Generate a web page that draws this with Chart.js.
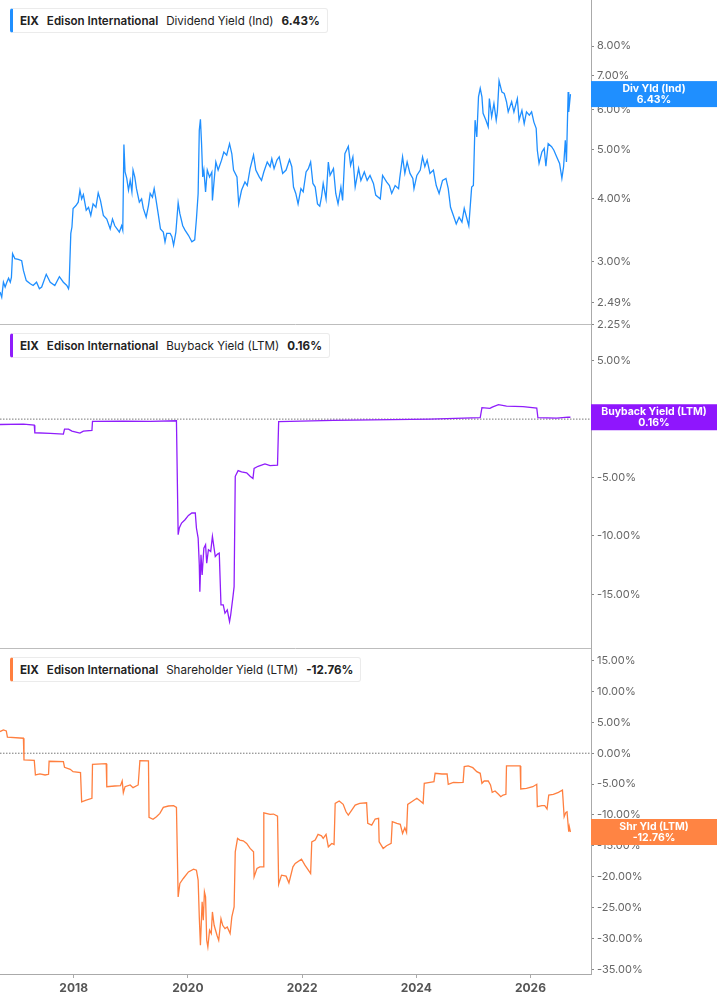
<!DOCTYPE html>
<html>
<head>
<meta charset="utf-8">
<title>EIX Edison International yields</title>
<script src="https://cdn.jsdelivr.net/npm/chart.js@4.4.1/dist/chart.umd.min.js"></script>
<style>
  html, body { margin: 0; padding: 0; background: #fff; }
  body { width: 717px; height: 1005px; position: relative; overflow: hidden; font-family: Inter, 'Noto Sans', sans-serif; }
  #chart { position: absolute; left: 0; top: 0; }
  .legend {
    position: absolute; left: 10px; height: 25px; box-sizing: border-box;
    display: flex; align-items: center; padding: 0 7px 0 7px;
    background: #fff; border: 1px solid #ebebeb; border-left: 3px solid; border-radius: 3px;
    font-size: 11.6px; color: #222; white-space: nowrap;
  }
  .legend .sym { font-weight: 700; }
  .legend .name { font-weight: 600; margin-left: 8px; }
  .legend .metric { font-weight: 400; margin-left: 8px; }
  .legend .val { font-weight: 700; margin-left: 8px; }
</style>
</head>
<body>
<canvas id="chart" width="717" height="1005"></canvas>
<div id="legends"></div>
<script>
// Labels

const ticker = 'EIX';
const company = 'Edison International';
const metricNames = ['Dividend Yield (Ind)', 'Buyback Yield (LTM)', 'Shareholder Yield (LTM)'];
const tagNames = ['Div Yld (Ind)', 'Buyback Yield (LTM)', 'Shr Yld (LTM)'];

// X axis (decimal years)

const xStart = 2016.71;
const xEnd = 2027.06;
const xTickYears = [2018, 2020, 2022, 2024, 2026];

// Dividend Yield (Ind), %

const divYears = [
    2016.71, 2016.74, 2016.77, 2016.80, 2016.83, 2016.86, 2016.89, 2016.91, 2016.93, 2016.97,
    2017.03, 2017.09, 2017.12, 2017.17, 2017.24, 2017.29, 2017.35, 2017.40, 2017.44, 2017.52,
    2017.59, 2017.67, 2017.75, 2017.82, 2017.88, 2017.91, 2017.92, 2017.95, 2017.97, 2017.99,
    2018.04, 2018.08, 2018.11, 2018.14, 2018.17, 2018.22, 2018.26, 2018.30, 2018.34, 2018.39,
    2018.43, 2018.47, 2018.52, 2018.58, 2018.64, 2018.68, 2018.72, 2018.76, 2018.80, 2018.84,
    2018.86, 2018.88, 2018.90, 2018.93, 2018.96, 2018.99, 2019.02, 2019.04, 2019.07, 2019.10,
    2019.15, 2019.19, 2019.22, 2019.27, 2019.31, 2019.34, 2019.38, 2019.41, 2019.44, 2019.48,
    2019.52, 2019.57, 2019.60, 2019.63, 2019.69, 2019.72, 2019.75, 2019.79, 2019.83, 2019.86,
    2019.91, 2019.95, 2020.01, 2020.07, 2020.12, 2020.15, 2020.18, 2020.20, 2020.22, 2020.24,
    2020.26, 2020.28, 2020.31, 2020.34, 2020.38, 2020.42, 2020.43, 2020.46, 2020.49, 2020.53,
    2020.59, 2020.63, 2020.68, 2020.73, 2020.77, 2020.80, 2020.86, 2020.89, 2020.94, 2021.00,
    2021.04, 2021.09, 2021.15, 2021.19, 2021.25, 2021.29, 2021.33, 2021.39, 2021.44, 2021.47,
    2021.51, 2021.56, 2021.60, 2021.66, 2021.72, 2021.78, 2021.82, 2021.85, 2021.89, 2021.93,
    2021.98, 2022.02, 2022.07, 2022.11, 2022.15, 2022.19, 2022.23, 2022.27, 2022.31, 2022.34,
    2022.37, 2022.42, 2022.46, 2022.49, 2022.55, 2022.59, 2022.63, 2022.68, 2022.71, 2022.75,
    2022.81, 2022.85, 2022.89, 2022.93, 2022.99, 2023.03, 2023.09, 2023.14, 2023.19, 2023.25,
    2023.29, 2023.37, 2023.41, 2023.48, 2023.53, 2023.57, 2023.63, 2023.69, 2023.71, 2023.76,
    2023.80, 2023.84, 2023.89, 2023.94, 2023.96, 2024.01, 2024.07, 2024.11, 2024.15, 2024.19,
    2024.24, 2024.30, 2024.35, 2024.40, 2024.46, 2024.52, 2024.56, 2024.60, 2024.65, 2024.70,
    2024.75, 2024.80, 2024.84, 2024.88, 2024.92, 2024.97, 2025.00, 2025.03, 2025.06, 2025.09,
    2025.12, 2025.15, 2025.17, 2025.22, 2025.26, 2025.28, 2025.32, 2025.36, 2025.40, 2025.42,
    2025.45, 2025.50, 2025.54, 2025.58, 2025.61, 2025.67, 2025.71, 2025.77, 2025.80, 2025.85,
    2025.89, 2025.93, 2025.98, 2026.02, 2026.06, 2026.10, 2026.12, 2026.15, 2026.20, 2026.24,
    2026.27, 2026.31, 2026.37, 2026.41, 2026.46, 2026.51, 2026.55, 2026.58, 2026.61, 2026.63,
    2026.66, 2026.67, 2026.70
];
const divValues = [
    2.61, 2.55, 2.73, 2.67, 2.73, 2.78, 2.73, 2.79, 3.11, 3.04,
    3.03, 3.01, 2.88, 2.75, 2.71, 2.69, 2.73, 2.65, 2.67, 2.83,
    2.73, 2.69, 2.80, 2.73, 2.69, 2.65, 2.69, 3.41, 3.51, 3.82,
    3.87, 3.93, 4.15, 3.99, 4.07, 3.79, 3.84, 3.70, 3.90, 3.84,
    4.10, 3.96, 3.70, 3.64, 3.48, 3.64, 3.53, 3.48, 3.43, 3.53,
    3.46, 5.11, 4.51, 4.38, 4.15, 4.34, 4.12, 4.55, 4.41, 4.18,
    3.93, 3.99, 3.82, 3.67, 3.87, 4.09, 4.02, 4.18, 3.99, 3.73,
    3.48, 3.43, 3.28, 3.41, 3.41, 3.36, 3.23, 3.43, 3.92, 3.73,
    3.53, 3.46, 3.38, 3.28, 3.31, 3.64, 4.09, 5.45, 5.73, 5.13,
    4.41, 4.55, 4.12, 4.55, 4.41, 4.51, 3.96, 4.34, 4.72, 4.55,
    4.76, 4.94, 4.87, 5.13, 4.90, 4.55, 4.41, 3.90, 4.15, 4.31,
    4.24, 4.58, 4.87, 4.55, 4.41, 4.34, 4.51, 4.72, 4.62, 4.79,
    4.58, 4.76, 4.83, 4.48, 4.55, 4.77, 4.62, 4.21, 4.09, 3.90,
    4.18, 4.12, 4.51, 4.58, 4.72, 4.28, 4.21, 3.90, 3.86, 4.02,
    4.28, 3.99, 4.72, 4.44, 4.58, 4.09, 3.90, 4.21, 3.96, 4.90,
    5.07, 4.65, 4.83, 4.21, 4.58, 4.34, 4.51, 4.34, 4.44, 4.28,
    4.06, 3.99, 4.44, 4.31, 4.24, 4.09, 4.24, 4.18, 4.38, 4.83,
    4.48, 4.72, 4.48, 4.38, 4.18, 4.44, 4.55, 4.83, 4.62, 4.76,
    4.48, 4.55, 4.24, 4.09, 4.34, 4.38, 4.18, 3.84, 3.70, 3.56,
    3.67, 3.59, 3.82, 3.67, 3.53, 4.21, 4.24, 5.71, 5.29, 6.35,
    6.60, 6.35, 5.89, 5.71, 5.54, 6.30, 5.80, 6.16, 5.71, 5.93,
    6.83, 6.49, 6.45, 6.21, 5.93, 6.21, 5.93, 6.30, 5.71, 5.97,
    5.62, 5.93, 5.84, 5.93, 5.66, 5.50, 4.98, 4.69, 4.94, 5.02,
    4.63, 5.13, 5.06, 4.98, 4.83, 4.69, 4.38, 4.62, 5.21, 4.72,
    6.49, 5.93, 6.43
];
const divTicks = [2.25, 2.49, 3, 4, 5, 6, 7, 8];

// Buyback Yield (LTM), %

const buyYears = [
    2016.71, 2017.12, 2017.31, 2017.32, 2017.59, 2017.82, 2017.84, 2017.91, 2017.97, 2018.11,
    2018.17, 2018.32, 2018.33, 2018.87, 2019.34, 2019.80, 2019.83, 2019.85, 2019.89, 2019.95,
    2020.01, 2020.07, 2020.13, 2020.15, 2020.18, 2020.20, 2020.21, 2020.23, 2020.25, 2020.28,
    2020.31, 2020.33, 2020.36, 2020.40, 2020.43, 2020.48, 2020.52, 2020.55, 2020.58, 2020.62,
    2020.65, 2020.69, 2020.73, 2020.75, 2020.79, 2020.81, 2020.83, 2020.88, 2020.94, 2021.03,
    2021.09, 2021.14, 2021.16, 2021.23, 2021.35, 2021.44, 2021.57, 2021.59, 2021.79, 2022.55,
    2024.24, 2025.12, 2025.15, 2025.29, 2025.33, 2025.44, 2025.58, 2025.87, 2026.11, 2026.13,
    2026.46, 2026.66, 2026.70
];
const buyValues = [
    -0.46, -0.43, -0.52, -1.17, -1.23, -1.29, -0.86, -0.86, -1.03, -1.20,
    -1.03, -0.97, -0.20, -0.17, -0.20, -0.14, -9.90, -9.33, -8.90, -8.62,
    -8.25, -8.04, -8.04, -9.33, -10.19, -12.48, -14.78, -11.62, -13.34, -11.05,
    -10.76, -12.34, -11.19, -11.34, -10.05, -11.77, -11.56, -11.48, -15.92, -15.92,
    -16.63, -16.35, -17.35, -16.78, -15.20, -14.35, -4.90, -4.41, -4.52, -4.60,
    -4.90, -5.09, -4.23, -4.04, -3.83, -3.98, -3.95, -0.22, -0.20, -0.11,
    0.00, 0.12, 0.98, 0.92, 1.03, 1.24, 1.12, 1.07, 0.95, 0.12,
    0.09, 0.17, 0.16
];
const buyTicks = [5, 0, -5, -10, -15];

// Shareholder Yield (LTM), %

const shrYears = [
    2016.71, 2016.77, 2016.82, 2016.84, 2017.12, 2017.13, 2017.31, 2017.33, 2017.41, 2017.50,
    2017.56, 2017.57, 2017.82, 2017.84, 2017.94, 2017.99, 2018.12, 2018.14, 2018.22, 2018.32,
    2018.33, 2018.57, 2018.58, 2018.72, 2018.82, 2018.85, 2018.87, 2018.90, 2018.99, 2019.04,
    2019.13, 2019.16, 2019.31, 2019.32, 2019.39, 2019.45, 2019.51, 2019.57, 2019.66, 2019.75,
    2019.80, 2019.83, 2019.86, 2019.92, 2020.01, 2020.10, 2020.15, 2020.18, 2020.20, 2020.22,
    2020.25, 2020.27, 2020.29, 2020.31, 2020.33, 2020.35, 2020.38, 2020.41, 2020.43, 2020.46,
    2020.51, 2020.54, 2020.58, 2020.61, 2020.65, 2020.69, 2020.74, 2020.77, 2020.81, 2020.83,
    2020.87, 2020.91, 2020.97, 2021.03, 2021.09, 2021.15, 2021.16, 2021.21, 2021.26, 2021.32,
    2021.33, 2021.44, 2021.50, 2021.57, 2021.59, 2021.64, 2021.72, 2021.77, 2021.84, 2021.88,
    2021.99, 2022.05, 2022.11, 2022.15, 2022.17, 2022.23, 2022.28, 2022.34, 2022.37, 2022.42,
    2022.46, 2022.52, 2022.56, 2022.58, 2022.65, 2022.72, 2022.77, 2022.81, 2022.87, 2022.93,
    2023.01, 2023.13, 2023.15, 2023.22, 2023.28, 2023.34, 2023.35, 2023.42, 2023.48, 2023.56,
    2023.58, 2023.66, 2023.72, 2023.76, 2023.80, 2023.83, 2023.85, 2023.92, 2024.01, 2024.07,
    2024.12, 2024.14, 2024.24, 2024.31, 2024.33, 2024.45, 2024.54, 2024.56, 2024.65, 2024.74,
    2024.82, 2024.84, 2024.91, 2024.99, 2025.06, 2025.12, 2025.15, 2025.19, 2025.26, 2025.30,
    2025.33, 2025.38, 2025.44, 2025.48, 2025.52, 2025.57, 2025.58, 2025.82, 2025.83, 2025.93,
    2026.04, 2026.11, 2026.12, 2026.20, 2026.25, 2026.29, 2026.32, 2026.40, 2026.49, 2026.56,
    2026.59, 2026.62, 2026.64, 2026.67, 2026.68, 2026.70
];
const shrValues = [
    3.51, 3.78, 3.62, 2.60, 2.43, -1.09, -1.14, -3.52, -3.36, -3.52,
    -3.41, -1.30, -1.36, -2.27, -2.60, -2.98, -3.15, -7.86, -7.58, -7.30,
    -1.79, -1.69, -5.42, -5.31, -5.26, -4.50, -6.39, -5.42, -5.14, -5.58,
    -5.14, -1.20, -1.25, -10.39, -10.71, -10.29, -9.74, -8.76, -8.55, -8.50,
    -8.76, -23.27, -21.10, -20.29, -19.22, -18.78, -18.94, -20.56, -26.52, -31.11,
    -24.08, -27.05, -22.46, -23.27, -30.30, -31.39, -28.68, -29.21, -25.71, -27.87,
    -29.49, -30.30, -26.78, -27.87, -28.40, -28.14, -29.21, -26.52, -24.90, -15.97,
    -13.80, -14.07, -14.18, -14.61, -15.42, -15.97, -20.03, -18.66, -18.41, -18.41,
    -9.64, -9.90, -9.85, -10.18, -21.21, -19.75, -19.91, -21.00, -18.41, -17.85,
    -17.15, -18.13, -18.94, -19.48, -14.35, -14.07, -13.15, -13.37, -13.80, -13.15,
    -15.16, -14.61, -14.77, -8.12, -7.74, -8.28, -9.48, -10.01, -9.20, -8.39,
    -8.12, -8.02, -11.36, -11.64, -10.66, -10.55, -14.35, -15.42, -14.99, -14.61,
    -11.10, -11.36, -11.52, -12.98, -12.07, -12.82, -8.28, -7.86, -7.30, -7.74,
    -8.12, -4.87, -4.71, -4.61, -3.25, -3.36, -3.36, -5.03, -4.71, -4.77,
    -4.71, -2.17, -2.06, -2.34, -2.98, -3.25, -4.87, -4.50, -4.50, -5.14,
    -6.33, -6.12, -6.65, -7.04, -6.77, -6.65, -2.06, -2.06, -5.79, -5.68,
    -5.42, -5.03, -8.66, -8.50, -8.50, -9.04, -6.77, -6.65, -6.33, -5.96,
    -10.29, -9.58, -9.48, -12.72, -11.91, -12.76
];
const shrTicks = [15, 10, 5, 0, -5, -10, -15, -20, -25, -30, -35];

const zeroLevel = 0;

// Styles

const lineColors = ['#1f8fff', '#8f1dfb', '#ff7f3f'];
const tagColors = ['#1f8fff', '#8f16fd', '#ff8443'];

const fmtPct = v => `${(Math.abs(v) < 0.005 ? 0 : v).toFixed(2)}%`;
const toPoints = (xs, ys) => xs.map((x, i) => ({ x: x, y: ys[i] }));

const panels = [
    { axis: 'yDiv', values: divValues, tag: tagNames[0], color: tagColors[0] },
    { axis: 'yBuy', values: buyValues, tag: tagNames[1], color: tagColors[1] },
    { axis: 'yShr', values: shrValues, tag: tagNames[2], color: tagColors[2] }
];

Chart.defaults.font.family = 'Inter';

/**
 * One of the three stacked value axes on the right
 */
function panelAxis(type, min, max, tickValues) {
    return {
        type: type,
        position: 'right',
        stack: 'panels',
        stackWeight: 1,
        min: min,
        max: max,
        border: { color: '#aaa' },
        grid: { drawOnChartArea: false, drawTicks: true, tickLength: 3, tickColor: '#888' },
        ticks: {
            autoSkip: false,
            padding: 3,
            color: '#666',
            font: { size: 11 },
            callback: v => fmtPct(v)
        },
        afterBuildTicks: s => {
            s.ticks = tickValues.map(v => ({ value: v }));
            s.min = min;
            s.max = max;
        },
        afterFit: s => {
            s.width = 126;
            s.paddingTop = 0;
            s.paddingBottom = 0;
        }
    };
}

// Panel separators
const separators = {
    id: 'separators',
    beforeDatasetsDraw(chart) {
        const { ctx, chartArea } = chart;
        ctx.save();
        ctx.strokeStyle = '#bdbdbd';
        ctx.lineWidth = 1;
        ['yDiv', 'yBuy'].forEach(id => {
            const y = Math.round(chart.scales[id].bottom) - 0.5;
            ctx.beginPath();
            ctx.moveTo(chartArea.left, y);
            ctx.lineTo(chartArea.right, y);
            ctx.stroke();
        });
        ctx.restore();
    }
};

// Last value tags on the axis
const lastValueTags = {
    id: 'lastValueTags',
    afterDraw(chart) {
        const { ctx } = chart;
        panels.forEach(p => {
            const scale = chart.scales[p.axis];
            const last = p.values[p.values.length - 1];
            const y = scale.getPixelForValue(last);
            const cx = (scale.left + chart.width) / 2;
            ctx.save();
            ctx.fillStyle = p.color;
            ctx.fillRect(scale.left, y - 13, chart.width - scale.left, 26);
            ctx.fillStyle = '#fff';
            ctx.font = '700 10.5px Inter';
            ctx.textAlign = 'center';
            ctx.textBaseline = 'middle';
            ctx.fillText(p.tag, cx, y - 5.5);
            ctx.fillText(fmtPct(last), cx, y + 6);
            ctx.restore();
        });
    }
};

const lineStyle = color => ({
    borderColor: color,
    borderWidth: 1.3,
    pointRadius: 0,
    tension: 0,
    fill: false
});

const zeroStyle = {
    borderColor: '#777',
    borderWidth: 1,
    borderDash: [1.5, 1.5],
    pointRadius: 0,
    fill: false
};

const chart = new Chart(document.getElementById('chart').getContext('2d'), {
    type: 'line',
    data: {
        datasets: [
            { label: metricNames[0], data: toPoints(divYears, divValues), yAxisID: 'yDiv', ...lineStyle(lineColors[0]) },
            { label: metricNames[1], data: toPoints(buyYears, buyValues), yAxisID: 'yBuy', ...lineStyle(lineColors[1]) },
            { label: metricNames[2], data: toPoints(shrYears, shrValues), yAxisID: 'yShr', ...lineStyle(lineColors[2]) },
            { label: 'zero', data: toPoints([xStart, xEnd], [zeroLevel, zeroLevel]), yAxisID: 'yBuy', ...zeroStyle },
            { label: 'zero', data: toPoints([xStart, xEnd], [zeroLevel, zeroLevel]), yAxisID: 'yShr', ...zeroStyle }
        ]
    },
    options: {
        responsive: false,
        animation: false,
        events: [],
        layout: { padding: 0 },
        plugins: {
            legend: { display: false },
            tooltip: { enabled: false }
        },
        scales: {
            x: {
                type: 'linear',
                position: 'bottom',
                min: xStart,
                max: xEnd,
                border: { color: '#aaa' },
                grid: { drawOnChartArea: false, drawTicks: true, tickLength: 4, tickColor: '#aaa' },
                ticks: {
                    autoSkip: false,
                    maxRotation: 0,
                    padding: 3,
                    color: '#555',
                    font: { size: 12, weight: '700' },
                    callback: v => String(v)
                },
                afterBuildTicks: s => {
                    s.ticks = xTickYears.map(v => ({ value: v }));
                },
                afterFit: s => {
                    s.height = 31;
                    s.paddingLeft = 0;
                    s.paddingRight = 0;
                }
            },
            yDiv: panelAxis('logarithmic', 2.25, 9.87, divTicks),
            yBuy: panelAxis('linear', -19.72, 8.09, buyTicks),
            yShr: panelAxis('linear', -35.76, 16.83, shrTicks)
        }
    },
    plugins: [separators, lastValueTags]
});

// Legend boxes

const legendHost = document.getElementById('legends');
panels.forEach((p, i) => {
    const box = document.createElement('div');
    box.className = 'legend';
    box.style.borderLeftColor = lineColors[i];
    box.style.top = `${Math.round(chart.scales[p.axis].top) + 8}px`;
    box.innerHTML =
        `<span class="sym">${ticker}</span>` +
        `<span class="name">${company}</span>` +
        `<span class="metric">${metricNames[i]}</span>` +
        `<span class="val">${fmtPct(p.values[p.values.length - 1])}</span>`;
    legendHost.appendChild(box);
});
</script>
</body>
</html>
